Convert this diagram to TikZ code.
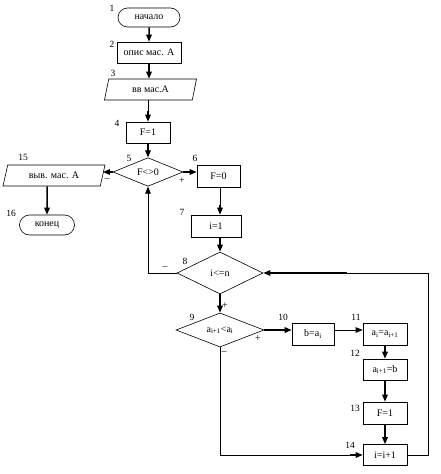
\documentclass[tikz,border=0pt]{standalone}
\usepackage{fontspec}
\setmainfont{Liberation Serif}
\usetikzlibrary{shapes.geometric,shapes.misc,arrows.meta}
\begin{document}
\begin{tikzpicture}[x=1pt,y=-1pt,
  every node/.style={font=\fontsize{10}{11}\selectfont, inner sep=0pt},
  box/.style={draw, line width=0.6pt, rectangle},
  term/.style={draw, line width=0.6pt, rounded rectangle},
  io/.style={draw, line width=0.6pt, trapezium, trapezium stretches body,
     trapezium left angle=#1, trapezium right angle=180-#1},
  dec/.style={draw, line width=0.6pt, diamond},
  num/.style={font=\fontsize{9.5}{10}\selectfont},
  sgn/.style={font=\fontsize{10}{11}\selectfont},
  thin line/.style={line width=0.6pt},
  arr/.style={-{Triangle[length=7pt,width=5.5pt]}, line width=0.6pt},
  tarr/.style={-{Triangle[length=7pt,width=5.5pt]}, line width=1.5pt},
]
\useasboundingbox (0,0) rectangle (440,474);

% nodes
\node[term, minimum width=62pt, minimum height=19pt] (t1) at (149,17.5) {начало};
\node[box, minimum width=64pt, minimum height=21pt] (r2) at (149,52.5) {опис мас. А};
\node[io=58, minimum width=92pt, minimum height=21pt] (p3) at (150.5,89.5) {вв мас.А};
\node[box, minimum width=44pt, minimum height=21pt] (r4) at (148,132.5) {F=1};
\node[dec, minimum width=70pt, minimum height=28pt] (d5) at (148,172) {F<>0};
\node[box, minimum width=43pt, minimum height=22pt] (r6) at (218.5,176) {F=0};
\node[box, minimum width=50pt, minimum height=22pt] (r7) at (216,226) {i=1};
\node[dec, minimum width=86pt, minimum height=42pt] (d8) at (220,273) {i<=n};
\node[dec, minimum width=88pt, minimum height=28pt] (d9) at (220,330) {a\textsubscript{i+1}<a\textsubscript{i}};
\node[box, minimum width=42pt, minimum height=22pt] (r10) at (313,334) {b=a\textsubscript{i}};
\node[box, minimum width=44pt, minimum height=22pt] (r11) at (385,334) {a\textsubscript{i}=a\textsubscript{i+1}};
\node[box, minimum width=44pt, minimum height=21pt] (r12) at (385,369.5) {a\textsubscript{i+1}=b};
\node[box, minimum width=44pt, minimum height=22pt] (r13) at (385,413) {F=1};
\node[box, minimum width=44pt, minimum height=21pt] (r14) at (385,455) {i=i+1};
\node[io=55, minimum width=102pt, minimum height=21pt] (p15) at (54,175.5) {выв. мас. А};
\node[term, minimum width=55pt, minimum height=20pt] (t16) at (47,225) {конец};

% number labels
\node[num] (n1) at (112,8) {1};
\node[num] (n2) at (112,44) {2};
\node[num] (n3) at (113,73.5) {3};
\node[num] (n4) at (117,123) {4};
\node[num] (n5) at (129,158) {5};
\node[num] (n6) at (195,158) {6};
\node[num] (n7) at (182,212) {7};
\node[num] (n8) at (185,261) {8};
\node[num] (n9) at (192,317) {9};
\node[num] (n10) at (283,317) {10};
\node[num] (n11) at (356,317) {11};
\node[num] (n12) at (355,353) {12};
\node[num] (n13) at (355,408) {13};
\node[num] (n14) at (350,445) {14};
\node[num] (n15) at (23,157) {15};
\node[num] (n16) at (11,213) {16};

% sign labels
\node[sgn] (s1) at (107,180) {–};
\node[sgn] (s2) at (182,181) {+};
\node[sgn] (s3) at (165,268) {–};
\node[sgn] (s4) at (225,306) {+};
\node[sgn] (s5) at (258,339) {+};
\node[sgn] (s6) at (224,353) {–};

% helper coordinates
\coordinate (c4) at (148,111);
\coordinate (c7) at (220,205);
\coordinate (c14) at (350,455);
\coordinate (lp) at (428,273);
\coordinate (lp2) at (347,273);

% connectors
\draw[tarr] (t1) -- (r2);
\draw[tarr] (r2.south) -- (r2.south |- p3.north);
\draw[thin line] (p3.south -| r4) -- (c4);
\draw[tarr] (c4) -- (r4.north);
\draw[tarr] (r4) -- (d5);
\draw[tarr] (d5.east) -- (d5.east -| r6.west);
\draw[tarr] (d5.west) -- (d5.west -| p15.east);
\draw[tarr] (p15.south -| t16) -- (t16);
\draw[thin line] (r6.south -| d8) -- (c7);
\draw[tarr] (c7) -- (r7.north -| d8);
\draw[tarr] (r7.south -| d8) -- (d8.north);
\draw[tarr] (d8.south) -- (d9.north);
\draw[arr] (d8.west) -| (d5.south);
\draw[tarr] (d9.east) -- (d9.east -| r10.west);
\draw[arr] (r10.east |- d9.east) -- (r11.west |- d9.east);
\draw[tarr] (r11) -- (r12);
\draw[tarr] (r12) -- (r13);
\draw[tarr] (r13) -- (r14);
\draw[thin line] (d9.south) |- (c14);
\draw[tarr] (c14) -- (r14.west);
\draw[thin line] (r14.east) -| (lp) -- (lp2);
\draw[tarr] (lp2) -- (d8.east);
\end{tikzpicture}
\end{document}
